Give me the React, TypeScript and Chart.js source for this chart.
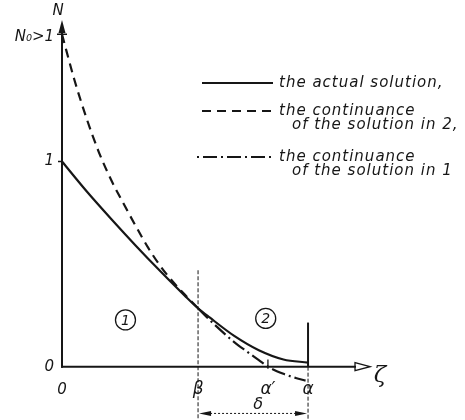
import { useEffect, useRef } from "react";
import { Chart, registerables } from "chart.js";

Chart.register(...registerables);

// ζ positions (α normalised to 1) and N values of each curve
const actualX = [0, 0.1, 0.2, 0.3, 0.4, 0.5, 0.553, 0.6, 0.7, 0.8, 0.9, 1.0];
const actualN = [1.0, 0.855, 0.72, 0.59, 0.465, 0.345, 0.285, 0.24, 0.15, 0.08, 0.035, 0.02];

const cont2X = [0, 0.05, 0.1, 0.15, 0.2, 0.25, 0.3, 0.35, 0.4, 0.45, 0.5, 0.553];
const cont2N = [1.62, 1.4, 1.21, 1.045, 0.91, 0.795, 0.685, 0.58, 0.49, 0.415, 0.35, 0.285];

const cont1X = [0.553, 0.6, 0.65, 0.7, 0.75, 0.8, 0.837, 0.9, 0.95, 0.99];
const cont1N = [0.285, 0.228, 0.172, 0.12, 0.075, 0.032, 0.0, -0.035, -0.055, -0.068];

// characteristic points on the ζ axis
const N0 = 1.62;
const BETA = 0.553;
const ALPHA_PRIME = 0.837;
const ALPHA = 1.0;

const yTickValues = [0, 1, N0];
const yTickLabels = ["0", "1", "N₀>1"];
const xTickValues = [0, BETA, ALPHA_PRIME, ALPHA];
const xTickLabels = ["0", "β", "α′", "α"];

const legendLines = [
  ["the actual solution,"],
  ["the continuance", "of the solution in 2,"],
  ["the continuance", "of the solution in 1"],
];

const X_MIN = 0;
const X_MAX = 1.26;
const Y_MIN = -0.26;
const Y_MAX = 1.69;

const INK = "#161616";
const FONT = "italic 15px 'DejaVu Sans', sans-serif";

const toPoints = (xs: number[], ys: number[]) => xs.map((x, i) => ({ x, y: ys[i] }));

const dashSolid: number[] = [];
const dashLong = [9, 6];
const dashDot = [14, 4, 2, 4];

const diagramPlugin = {
  id: "diagram",
  afterDatasetsDraw(chart: any) {
    const { ctx } = chart;
    const xs = chart.scales.x;
    const ys = chart.scales.y;
    const px = (v: number) => xs.getPixelForValue(v);
    const py = (v: number) => ys.getPixelForValue(v);
    const x0 = px(0);
    const y0 = py(0);

    ctx.save();
    ctx.strokeStyle = INK;
    ctx.fillStyle = INK;
    ctx.lineCap = "butt";

    // N axis with arrow
    const yTop = py(Y_MAX);
    ctx.lineWidth = 2;
    ctx.beginPath();
    ctx.moveTo(x0, y0 + 1);
    ctx.lineTo(x0, yTop + 6);
    ctx.stroke();
    ctx.beginPath();
    ctx.moveTo(x0, yTop);
    ctx.lineTo(x0 - 3.5, yTop + 13);
    ctx.lineTo(x0 + 3.5, yTop + 13);
    ctx.closePath();
    ctx.fill();

    // ζ axis with open arrow
    const xTip = px(X_MAX) - 2;
    ctx.beginPath();
    ctx.moveTo(x0 - 1, y0);
    ctx.lineTo(xTip - 14, y0);
    ctx.stroke();
    ctx.lineWidth = 1.3;
    ctx.beginPath();
    ctx.moveTo(xTip, y0);
    ctx.lineTo(xTip - 15, y0 - 4);
    ctx.lineTo(xTip - 15, y0 + 4);
    ctx.closePath();
    ctx.stroke();

    // ticks on N axis
    ctx.lineWidth = 1.5;
    ctx.beginPath();
    ctx.moveTo(x0 - 5, py(N0));
    ctx.lineTo(x0 + 5, py(N0));
    ctx.moveTo(x0 - 4, py(1));
    ctx.lineTo(x0, py(1));
    ctx.stroke();

    // tick at α'
    ctx.lineWidth = 1.3;
    ctx.beginPath();
    ctx.moveTo(px(ALPHA_PRIME), py(0.035));
    ctx.lineTo(px(ALPHA_PRIME), py(-0.01));
    ctx.stroke();

    // boundary β between zones 1 and 2
    ctx.lineWidth = 1;
    ctx.setLineDash([4, 2]);
    ctx.beginPath();
    ctx.moveTo(px(BETA), py(0.47));
    ctx.lineTo(px(BETA), py(-0.255));
    ctx.stroke();

    // extension below α
    ctx.beginPath();
    ctx.moveTo(px(ALPHA), py(0));
    ctx.lineTo(px(ALPHA), py(-0.255));
    ctx.stroke();

    // dimension δ
    ctx.setLineDash([2, 2]);
    const yd = py(-0.228);
    ctx.beginPath();
    ctx.moveTo(px(BETA) + 8, yd);
    ctx.lineTo(px(ALPHA) - 8, yd);
    ctx.stroke();
    ctx.setLineDash([]);
    const arrowHead = (tip: number, dir: number) => {
      ctx.beginPath();
      ctx.moveTo(tip, yd);
      ctx.lineTo(tip + dir * 12, yd - 2.5);
      ctx.lineTo(tip + dir * 12, yd + 2.5);
      ctx.closePath();
      ctx.fill();
    };
    arrowHead(px(BETA) + 1, 1);
    arrowHead(px(ALPHA) - 1, -1);

    // solid stub at α
    ctx.lineWidth = 2;
    ctx.beginPath();
    ctx.moveTo(px(ALPHA), py(0.215));
    ctx.lineTo(px(ALPHA), y0);
    ctx.stroke();

    // labels
    ctx.font = FONT;
    ctx.textBaseline = "middle";
    ctx.textAlign = "right";
    yTickValues.forEach((v, i) => {
      ctx.fillText(yTickLabels[i], x0 - 8, py(v) + (i === 2 ? 3 : 0));
    });
    ctx.textAlign = "center";
    ctx.font = "italic 15px 'DejaVu Sans', sans-serif";
    ctx.fillText("N", x0 - 4, 11);

    const labelY = y0 + 23;
    xTickValues.forEach((v, i) => {
      ctx.font = i === 0 ? FONT : "italic 17px 'DejaVu Sans', sans-serif";
      ctx.fillText(xTickLabels[i], px(v), labelY);
    });
    ctx.font = "italic 16px 'DejaVu Sans', sans-serif";
    ctx.fillText("δ", (px(BETA) + px(ALPHA)) / 2 + 5, yd - 9);

    ctx.font = "italic 23px 'DejaVu Serif', serif";
    ctx.fillText("ζ", xTip + 10, y0 + 9);

    // zone markers
    const zone = (label: string, cx: number, cy: number) => {
      ctx.lineWidth = 1.3;
      ctx.beginPath();
      ctx.arc(cx, cy, 10, 0, Math.PI * 2);
      ctx.stroke();
      ctx.font = "italic 14px 'DejaVu Sans', sans-serif";
      ctx.fillText(label, cx, cy + 1);
    };
    zone("1", px(0.258), py(0.228));
    zone("2", px(0.828), py(0.235));

    // legend
    const sets = chart.data.datasets;
    const rows = [83, 111, 157];
    ctx.textAlign = "left";
    rows.forEach((ry, i) => {
      const ds = sets[i];
      ctx.strokeStyle = INK;
      ctx.lineWidth = 2;
      ctx.setLineDash(ds.borderDash || []);
      // the dash-dot sample starts on a dot
      ctx.lineDashOffset = i === 2 ? 18 : 0;
      ctx.beginPath();
      ctx.moveTo(i === 2 ? 197 : 202, ry);
      ctx.lineTo(i === 2 ? 275 : 273, ry);
      ctx.stroke();
      ctx.setLineDash([]);
      ctx.lineDashOffset = 0;
      ctx.font = FONT;
      ctx.letterSpacing = "1px";
      ctx.fillText(legendLines[i][0], 279, ry);
      if (legendLines[i][1]) ctx.fillText(legendLines[i][1], 292, ry + 14);
      ctx.letterSpacing = "0px";
    });

    ctx.restore();
  },
};

export default function App() {
  const ref = useRef<HTMLCanvasElement>(null);

  useEffect(() => {
    if (!ref.current) return;
    const chart = new Chart(ref.current, {
      type: "scatter",
      data: {
        datasets: [
          {
            label: "the actual solution",
            data: toPoints(actualX, actualN),
            showLine: true,
            borderColor: INK,
            borderWidth: 2.2,
            borderDash: dashSolid,
            pointRadius: 0,
            cubicInterpolationMode: "monotone",
          },
          {
            label: "the continuance of the solution in 2",
            data: toPoints(cont2X, cont2N),
            showLine: true,
            borderColor: INK,
            borderWidth: 2.2,
            borderDash: dashLong,
            pointRadius: 0,
            cubicInterpolationMode: "monotone",
          },
          {
            label: "the continuance of the solution in 1",
            data: toPoints(cont1X, cont1N),
            showLine: true,
            borderColor: INK,
            borderWidth: 2.2,
            borderDash: dashDot,
            pointRadius: 0,
            cubicInterpolationMode: "monotone",
          },
        ],
      },
      options: {
        responsive: false,
        animation: false,
        layout: { padding: { left: 62, right: 93, top: 20, bottom: 0 } },
        plugins: { legend: { display: false }, tooltip: { enabled: false } },
        scales: {
          x: { type: "linear", min: X_MIN, max: X_MAX, display: false },
          y: { type: "linear", min: Y_MIN, max: Y_MAX, display: false },
        },
      },
      plugins: [diagramPlugin],
    });
    return () => chart.destroy();
  }, []);

  return (
    <div style={{ position: "absolute", left: 0, top: 0, width: 465, height: 420, background: "#fff" }}>
      <canvas ref={ref} width={465} height={420} style={{ display: "block" }} />
    </div>
  );
}
